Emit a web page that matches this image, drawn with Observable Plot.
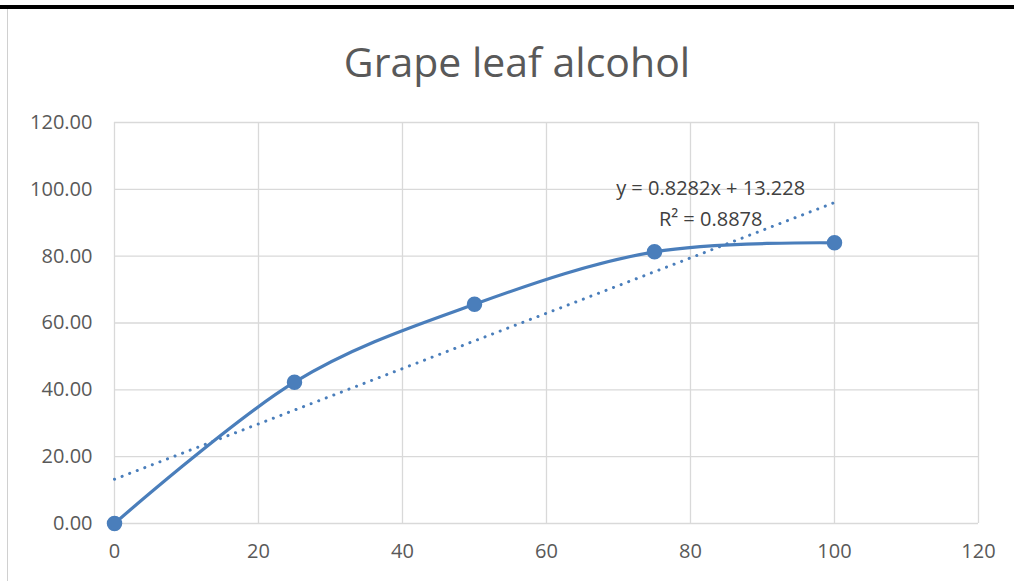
<!DOCTYPE html>
<html><head><meta charset="utf-8">
<script src="https://cdn.jsdelivr.net/npm/d3@7"></script>
<script src="https://cdn.jsdelivr.net/npm/@observablehq/plot@0.6"></script>
<style>
body{margin:0;background:#fff;}
#wrap{position:relative;width:1014px;height:581px;overflow:hidden;font-family:"Open Sans",sans-serif;}
#topbar{position:absolute;left:0;top:5px;width:1014px;height:4px;background:#000;}
#leftb{position:absolute;left:7px;top:9px;width:1px;height:572px;background:#d0d0d0;}
#title{position:absolute;left:0;width:1034px;top:33px;text-align:center;font-size:41px;color:#595959;}
#chart{position:absolute;left:0;top:0;}
</style></head>
<body><div id="wrap"><div id="topbar"></div><div id="leftb"></div><div id="chart"></div><div id="title">Grape leaf alcohol</div></div>
<script>
const title = "Grape leaf alcohol";
const concentration = [0, 25, 50, 75, 100];
const inhibition = [0, 42.3, 65.6, 81.3, 84.0];
const xTicks = [0, 20, 40, 60, 80, 100, 120];
const yTicks = [0, 20, 40, 60, 80, 100, 120];
const trendLabel = ["y = 0.8282x + 13.228", "R² = 0.8878"];

const data = concentration.map((x, i) => ({x, y: inhibition[i]}));
const blue = "#4a7ebb";
const plot = Plot.plot({
  width: 1014, height: 581,
  marginLeft: 114, marginRight: 36, marginTop: 122, marginBottom: 58,
  style: {fontFamily: "'Open Sans', sans-serif", fontSize: "20px", color: "#595959", background: "transparent"},
  x: {domain: [0, 120], ticks: xTicks, label: null},
  y: {domain: [0, 120], ticks: yTicks, label: null},
  marks: [
    Plot.gridX(xTicks, {stroke: "#d9d9d9", strokeOpacity: 1, strokeWidth: 1.3}),
    Plot.gridY(yTicks, {stroke: "#d9d9d9", strokeOpacity: 1, strokeWidth: 1.3}),
    Plot.axisX(xTicks, {tickSize: 0, tickPadding: 20, fontSize: 20, fill: "#595959"}),
    Plot.axisY(yTicks, {tickSize: 0, tickPadding: 22, tickFormat: d3.format(".2f"), fontSize: 20, fill: "#595959"}),
    Plot.linearRegressionY(data, {x: "x", y: "y", ci: 0, stroke: blue, strokeWidth: 3, strokeDasharray: "0.1,8", strokeLinecap: "round"}),
    Plot.line(data, {x: "x", y: "y", curve: "cardinal", stroke: blue, strokeWidth: 3.2}),
    Plot.dot(data, {x: "x", y: "y", r: 7, fill: blue, stroke: blue}),
    Plot.text([trendLabel.join("\n")], {x: () => 82.8, y: () => 96.6, text: d => d, fontSize: 20, fill: "#404040", lineHeight: 1.55, lineAnchor: "middle"})
  ]
});
document.getElementById("chart").appendChild(plot);
</script></body></html>
